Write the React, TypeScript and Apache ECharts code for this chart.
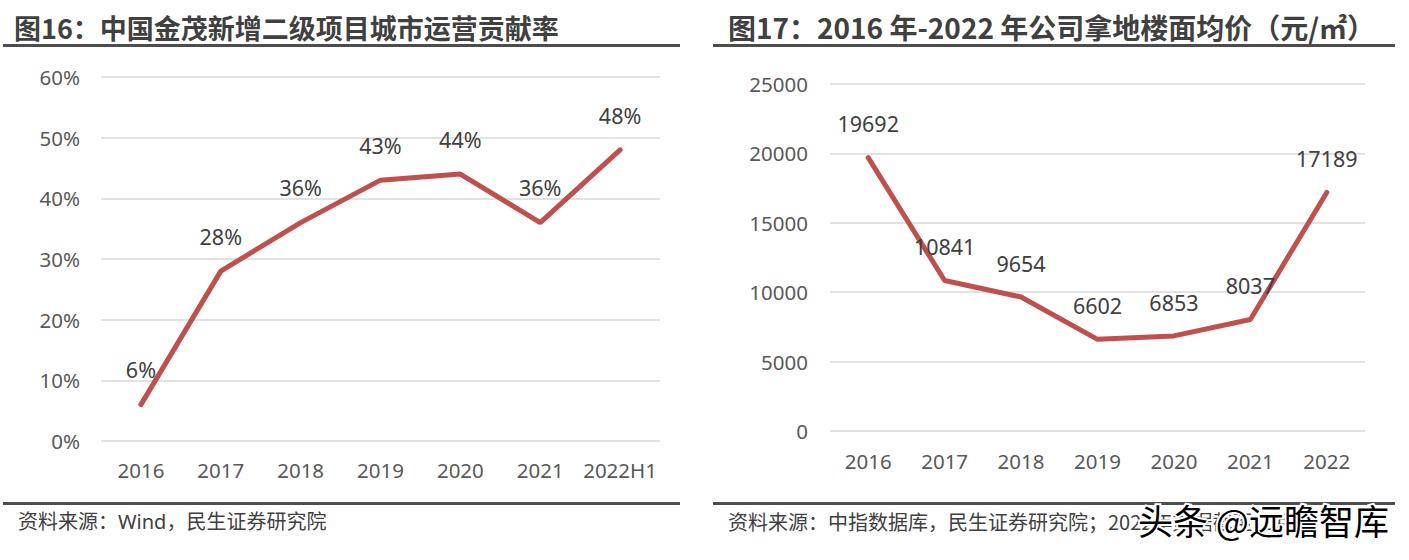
import React, { useEffect, useRef } from "react";
import * as echarts from "echarts";

const leftCategories = ["2016", "2017", "2018", "2019", "2020", "2021", "2022H1"];
const leftValues = [6, 28, 36, 43, 44, 36, 48];
const rightCategories = ["2016", "2017", "2018", "2019", "2020", "2021", "2022"];
const rightValues = [19692, 10841, 9654, 6602, 6853, 8037, 17189];

const leftTitle = "图16：中国金茂新增二级项目城市运营贡献率";
const rightTitle = "图17：2016 年-2022 年公司拿地楼面均价（元/㎡）";
const leftSource = "资料来源：Wind，民生证券研究院";
const rightSource = "资料来源：中指数据库，民生证券研究院；2022年数据截至10月";
const watermark = "头条 @远瞻智库";

const FONT = "'Noto Sans', 'Noto Sans CJK SC', sans-serif";
const TEXT = "#404040";
const LINE = "#c0504d";

export default function App() {
  const ref = useRef<HTMLDivElement>(null);
  useEffect(() => {
    document.body.style.margin = "0";
    const chart = echarts.init(ref.current!, null, { renderer: "svg" });
    const axisLabel = { color: "#595959", fontSize: 20.5, fontFamily: FONT };
    const dataLabel = { show: true, position: "top", color: TEXT, fontSize: 21.5, fontFamily: FONT };
    chart.setOption({
      animation: false,
      textStyle: { fontFamily: FONT },
      grid: [
        { left: 101, right: 749, top: 77, bottom: 119 },
        { left: 830, right: 44, top: 84, bottom: 129 },
      ],
      xAxis: [
        {
          gridIndex: 0,
          type: "category",
          data: leftCategories,
          boundaryGap: true,
          axisLine: { show: false },
          axisTick: { show: false },
          axisLabel: { ...axisLabel, margin: 19, interval: 0 },
        },
        {
          gridIndex: 1,
          type: "category",
          data: rightCategories,
          boundaryGap: true,
          axisLine: { show: false },
          axisTick: { show: false },
          axisLabel: { ...axisLabel, margin: 20, interval: 0 },
        },
      ],
      yAxis: [
        {
          gridIndex: 0,
          type: "value",
          min: 0,
          max: 60,
          interval: 10,
          axisLine: { show: false },
          axisTick: { show: false },
          axisLabel: { ...axisLabel, margin: 21, formatter: "{value}%" },
          splitLine: { lineStyle: { color: "#d9d9d9", width: 1.5 } },
        },
        {
          gridIndex: 1,
          type: "value",
          min: 0,
          max: 25000,
          interval: 5000,
          axisLine: { show: false },
          axisTick: { show: false },
          axisLabel: { ...axisLabel, margin: 22, formatter: (v: number) => String(v) },
          splitLine: { lineStyle: { color: "#d9d9d9", width: 1.5 } },
        },
      ],
      series: [
        {
          type: "line",
          xAxisIndex: 0,
          yAxisIndex: 0,
          data: leftValues,
          symbol: "circle",
          symbolSize: 0,
          showSymbol: true,
          lineStyle: { color: LINE, width: 5, cap: "round" },
          itemStyle: { color: LINE },
          label: { ...dataLabel, distance: 24, formatter: "{c}%" },
        },
        {
          type: "line",
          xAxisIndex: 1,
          yAxisIndex: 1,
          data: rightValues,
          symbol: "circle",
          symbolSize: 0,
          showSymbol: true,
          lineStyle: { color: LINE, width: 5, cap: "round" },
          itemStyle: { color: LINE },
          label: { ...dataLabel, distance: 23 },
        },
      ],
      graphic: [
        {
          type: "text",
          left: 14,
          top: 14,
          style: {
            text: leftTitle,
            fill: TEXT,
            font: `bold 27px 'Noto Sans CJK SC', sans-serif`,
          },
        },
        {
          type: "text",
          left: 728,
          top: 13,
          style: {
            text: rightTitle,
            fill: TEXT,
            font: `bold 28px 'Noto Sans CJK SC', sans-serif`,
          },
        },
        { type: "rect", shape: { x: 3, y: 44, width: 677, height: 3 }, style: { fill: "#4d4d4d" } },
        { type: "rect", shape: { x: 713, y: 44, width: 682, height: 3 }, style: { fill: "#4d4d4d" } },
        { type: "rect", shape: { x: 3, y: 502, width: 677, height: 3 }, style: { fill: "#4d4d4d" } },
        { type: "rect", shape: { x: 713, y: 502, width: 682, height: 3 }, style: { fill: "#4d4d4d" } },
        {
          type: "text",
          left: 18,
          top: 511,
          style: { text: leftSource, fill: TEXT, font: `20px 'Noto Sans', 'Noto Sans CJK SC', sans-serif` },
        },
        {
          type: "text",
          left: 728,
          top: 511,
          style: { text: rightSource, fill: TEXT, font: `20px 'Noto Sans CJK SC', sans-serif` },
        },
        {
          type: "text",
          left: 1136,
          top: 500,
          z: 100,
          style: {
            text: watermark,
            fill: "#000000",
            stroke: "#ffffff",
            lineWidth: 4,
            font: `35px 'Noto Sans CJK SC', sans-serif`,
          },
        },
      ],
    });
    return () => chart.dispose();
  }, []);
  return <div ref={ref} style={{ width: 1409, height: 560 }} />;
}
